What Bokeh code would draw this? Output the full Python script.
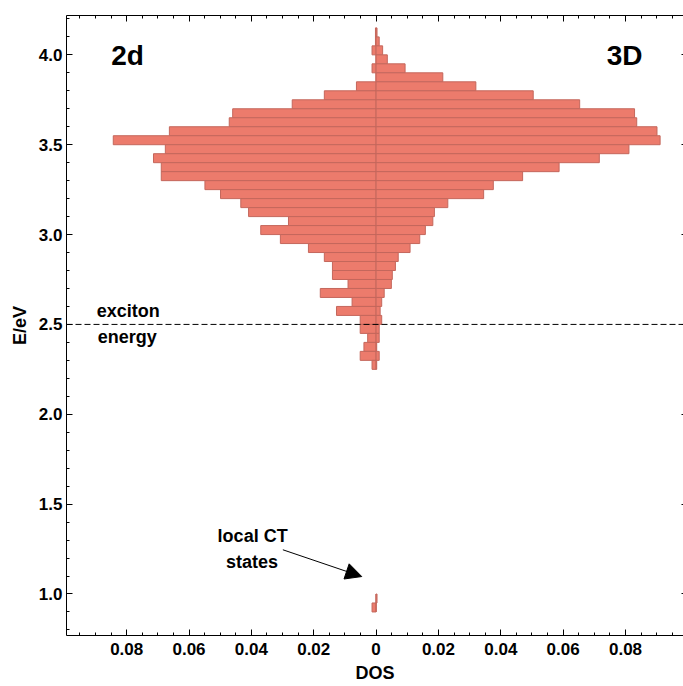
from bokeh.plotting import figure
from bokeh.models import (Range1d, FixedTicker, CustomJSTickFormatter, LinearAxis,
                          Span, Label, Arrow, NormalHead, ColumnDataSource)
from bokeh.embed import file_html
from bokeh.resources import INLINE

# ---- data: lower edge of each 0.05 eV energy bin, and DOS of each sample ----
e_low = [4.10, 4.05, 4.00, 3.95, 3.90, 3.85, 3.80, 3.75, 3.70, 3.65,
         3.60, 3.55, 3.50, 3.45, 3.40, 3.35, 3.30, 3.25, 3.20, 3.15,
         3.10, 3.05, 3.00, 2.95, 2.90, 2.85, 2.80, 2.75, 2.70, 2.65,
         2.60, 2.55, 2.50, 2.45, 2.40, 2.35, 2.30, 2.25, 0.95, 0.90]
dos_2d = [0.0002, 0.0002, 0.0013, 0.0000, 0.0013, 0.0000, 0.0063, 0.0166, 0.0269, 0.0460,
          0.0471, 0.0663, 0.0843, 0.0676, 0.0714, 0.0689, 0.0689, 0.0549, 0.0499, 0.0434,
          0.0409, 0.0281, 0.0370, 0.0307, 0.0217, 0.0166, 0.0140, 0.0140, 0.0090, 0.0179,
          0.0077, 0.0127, 0.0051, 0.0051, 0.0027, 0.0039, 0.0051, 0.0013, 0.0000, 0.0013]
dos_3d = [0.0003, 0.0010, 0.0021, 0.0036, 0.0093, 0.0214, 0.0320, 0.0504, 0.0653, 0.0829,
          0.0836, 0.0901, 0.0911, 0.0811, 0.0716, 0.0587, 0.0470, 0.0376, 0.0345, 0.0230,
          0.0187, 0.0182, 0.0158, 0.0140, 0.0109, 0.0071, 0.0062, 0.0052, 0.0049, 0.0026,
          0.0018, 0.0013, 0.0018, 0.0010, 0.0010, 0.0002, 0.0010, 0.0002, 0.0003, 0.0000]
bin_width = 0.05
exciton_energy = 2.5
x_major = [-0.08, -0.06, -0.04, -0.02, 0.0, 0.02, 0.04, 0.06, 0.08]
y_major = [1.0, 1.5, 2.0, 2.5, 3.0, 3.5, 4.0]

src = ColumnDataSource(dict(
    bottom=e_low,
    top=[e + bin_width for e in e_low],
    left2d=[-v for v in dos_2d],
    right3d=dos_3d,
    zero=[0.0] * len(e_low),
))

FONT = "Liberation Sans"
FILL = "#EC7B6C"
EDGE = "#C4675C"

p = figure(width=683, height=686, output_backend="svg", toolbar_location=None,
           x_range=Range1d(-0.0993, 0.0986), y_range=Range1d(0.769, 4.219),
           min_border_left=66, min_border_right=0, min_border_top=15, min_border_bottom=51,
           background_fill_color="white", border_fill_color="white")
p.outline_line_color = None
p.xgrid.visible = False
p.ygrid.visible = False

p.quad(left="left2d", right="zero", bottom="bottom", top="top", source=src,
       fill_color=FILL, line_color=EDGE, line_width=1)
p.quad(left="zero", right="right3d", bottom="bottom", top="top", source=src,
       fill_color=FILL, line_color=EDGE, line_width=1)

p.add_layout(Span(location=exciton_energy, dimension="width", line_color="black",
                  line_width=1, line_dash="6 3"))

x_minor = [round(i * 0.005, 3) for i in range(-19, 20)]
y_minor = [round(0.8 + 0.1 * i, 1) for i in range(0, 35)]
xt = FixedTicker(ticks=x_major, minor_ticks=x_minor)
yt = FixedTicker(ticks=y_major, minor_ticks=y_minor)


def style(ax, labels=True):
    ax.axis_line_color = "black"
    ax.axis_line_width = 1
    ax.major_tick_line_color = "black"
    ax.minor_tick_line_color = "black"
    ax.major_tick_in = 6
    ax.major_tick_out = 0
    ax.minor_tick_in = 3
    ax.minor_tick_out = 0
    ax.major_label_text_font = FONT
    ax.major_label_text_font_style = "bold"
    ax.major_label_text_font_size = "17px"
    ax.major_label_text_color = "black"
    ax.axis_label_text_font = FONT
    ax.axis_label_text_font_style = "bold"
    ax.axis_label_text_font_size = "18px"
    ax.axis_label_text_color = "black"
    if not labels:
        ax.major_label_text_font_size = "0px"
        ax.major_label_standoff = 0
        ax.formatter = CustomJSTickFormatter(code="return '';")


xax = p.xaxis[0]
style(xax)
xax.ticker = xt
xax.formatter = CustomJSTickFormatter(
    code="return Math.abs(tick) < 1e-9 ? '0' : Math.abs(tick).toFixed(2);")
xax.axis_label = "DOS"
xax.major_label_standoff = 7
xax.axis_label_standoff = 5

yax = p.yaxis[0]
style(yax)
yax.ticker = yt
yax.formatter = CustomJSTickFormatter(code="return tick.toFixed(1);")
yax.axis_label = "E/eV"
yax.major_label_standoff = 4
yax.axis_label_standoff = 6

top_ax = LinearAxis(ticker=FixedTicker(ticks=x_major, minor_ticks=x_minor))
style(top_ax, labels=False)
p.add_layout(top_ax, "above")

right_ax = LinearAxis(ticker=FixedTicker(ticks=y_major, minor_ticks=y_minor))
style(right_ax, labels=False)
right_ax.axis_line_color = None
right_ax.major_tick_in = 2
right_ax.minor_tick_in = 0
p.add_layout(right_ax, "right")


def label(x, y, text, size):
    p.add_layout(Label(x=x, y=y, text=text, text_font=FONT, text_font_style="bold",
                       text_font_size=size, text_color="black", text_align="center",
                       text_baseline="alphabetic"))


label(-0.0797, 3.996, "2d", "28px")
label(0.0797, 3.996, "3D", "28px")
label(-0.0795, 2.576, "exciton", "18px")
label(-0.0798, 2.428, "energy", "18px")
label(-0.0396, 1.323, "local CT", "18px")
label(-0.0398, 1.180, "states", "18px")

p.add_layout(Arrow(x_start=-0.0299, y_start=1.246, x_end=-0.0046, y_end=1.097,
                   line_color="black", line_width=1,
                   end=NormalHead(size=16, fill_color="black", line_color="black")))

open("out.html", "w").write(file_html(p, INLINE))
